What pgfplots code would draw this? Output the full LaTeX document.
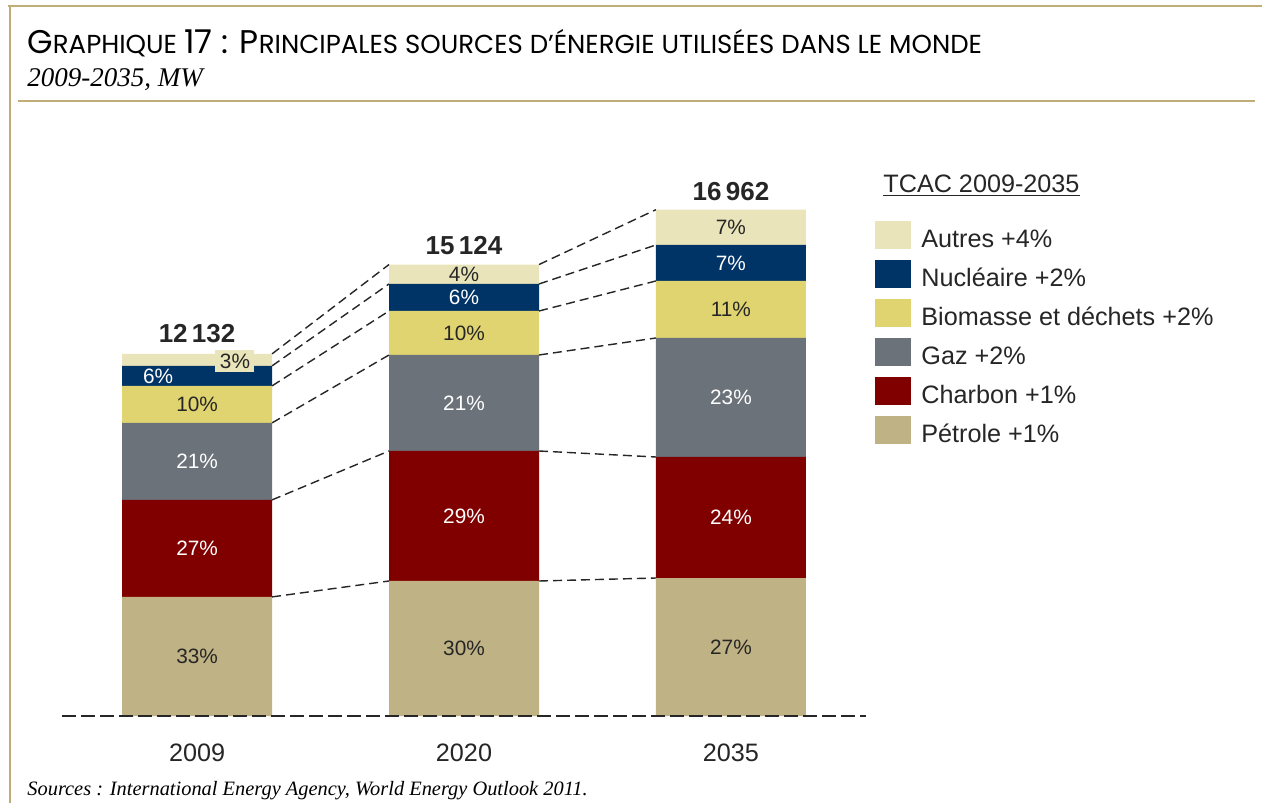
\documentclass[border=0pt]{standalone}
\usepackage{fontspec}
\setmainfont{Liberation Sans}
\newfontfamily\titlefont{Poppins}
\newfontfamily\seriffont{Liberation Serif}
\usepackage{pgfplots}
\pgfplotsset{compat=1.18}
\usepackage{pgfplotstable}

\definecolor{frame}{RGB}{191,174,118}
\definecolor{cAutres}{RGB}{233,228,185}
\definecolor{cNuc}{RGB}{0,51,102}
\definecolor{cBio}{RGB}{224,212,112}
\definecolor{cGaz}{RGB}{107,114,122}
\definecolor{cChar}{RGB}{128,0,0}
\definecolor{cPet}{RGB}{191,178,132}
\definecolor{txt}{RGB}{38,38,38}

\pgfplotstableread{
x P C G B N A
0 3990 3250 2580 1240 670 402
1 4523 4355 3216 1474 905 651
2 4623 4054 3987 1910 1206 1182
}\energy

\pgfplotstableread{
x c1 c2 c3 c4 c5 c6
0.281 3990 7240 9820 11060 11730 12132
0.719 4523 8878 12094 13568 14473 15124
}\linkA
\pgfplotstableread{
x c1 c2 c3 c4 c5 c6
1.281 4523 8878 12094 13568 14473 15124
1.719 4623 8677 12664 14574 15780 16962
}\linkB

\newcommand{\labf}{\fontsize{10.4}{10.4}\selectfont}
\newcommand{\bigf}{\fontsize{12.6}{12.6}\selectfont}

\begin{document}
\begin{tikzpicture}
\useasboundingbox (0,0) rectangle (631pt,-401.5pt);
\fill[white] (0,0) rectangle (631pt,-401.5pt);
% frame
\draw[frame, line width=1.1pt] (4pt,-3pt) -- (631pt,-3pt);
\draw[frame, line width=1.1pt] (5pt,-3pt) -- (5pt,-401.5pt);
\draw[frame, line width=1pt] (9pt,-50.5pt) -- (627.5pt,-50.5pt);
% title
\node[anchor=base west, inner sep=0, text=black, text depth=0pt] at (13.5pt,-27pt)
 {\titlefont\fontsize{16.4}{16.4}\selectfont G\fontsize{13}{13}\selectfont RAPHIQUE \fontsize{16.4}{16.4}\selectfont 17 : P\fontsize{13}{13}\selectfont RINCIPALES SOURCES D’ÉNERGIE UTILISÉES DANS LE MONDE};
\node[anchor=base west, inner sep=0, text=black] at (13.5pt,-43pt)
 {\seriffont\itshape\fontsize{13.5}{13.5}\selectfont 2009-2035, MW};
\node[anchor=base west, inner sep=0, text=black] at (13.5pt,-397.5pt)
 {\seriffont\itshape\fontsize{10.2}{10.2}\selectfont Sources : International Energy Agency, World Energy Outlook 2011.};

% bars
\begin{axis}[at={(31pt,-358pt)}, anchor=south west, scale only axis,
  width=402pt, height=283.58pt, xmin=-0.506, xmax=2.506, ymin=0, ymax=19000,
  enlargelimits=false, ybar stacked, bar width=75pt,
  axis line style={draw=none}, tick style={draw=none}, ytick=\empty,
  xtick={0,1,2}, xticklabels={2009,2020,2035},
  xticklabel style={anchor=base, yshift=-22.5pt, font=\bigf, text=txt},
  clip=false]
\addplot[fill=cPet, draw=none] table[x=x,y=P]{\energy};
\addplot[fill=cChar, draw=none] table[x=x,y=C]{\energy};
\addplot[fill=cGaz, draw=none] table[x=x,y=G]{\energy};
\addplot[fill=cBio, draw=none] table[x=x,y=B]{\energy};
\addplot[fill=cNuc, draw=none] table[x=x,y=N]{\energy};
\addplot[fill=cAutres, draw=none] table[x=x,y=A]{\energy};
\end{axis}

% connectors, baseline and labels
\begin{axis}[at={(31pt,-358pt)}, anchor=south west, scale only axis,
  width=402pt, height=283.58pt, xmin=-0.506, xmax=2.506, ymin=0, ymax=19000,
  enlargelimits=false, hide axis, clip=false]
\foreach \c in {c1,c2,c3,c4,c5,c6}{
  \addplot[txt, line width=0.7pt, dash pattern=on 4.5pt off 2.5pt] table[x=x,y=\c]{\linkA};
  \addplot[txt, line width=0.7pt, dash pattern=on 4.5pt off 2.5pt] table[x=x,y=\c]{\linkB};
}
\addplot[txt, line width=0.8pt, dash pattern=on 7pt off 2.5pt] coordinates {(-0.506,0) (2.506,0)};
% labels 2009
\node[text=txt, font=\labf] at (axis cs:0,1995) {33\%};
\node[text=white, font=\labf] at (axis cs:0,5615) {27\%};
\node[text=white, font=\labf] at (axis cs:0,8530) {21\%};
\node[text=txt, font=\labf] at (axis cs:0,10440) {10\%};
\node[text=white, font=\labf] at (axis cs:-0.146,11370) {6\%};
\node[text=txt, font=\labf, fill=cAutres, inner sep=0, minimum width=19.5pt, minimum height=11pt] at (axis cs:0.142,11893) {3\%};
% labels 2020
\node[text=txt, font=\labf] at (axis cs:1,2262) {30\%};
\node[text=white, font=\labf] at (axis cs:1,6700) {29\%};
\node[text=white, font=\labf] at (axis cs:1,10486) {21\%};
\node[text=txt, font=\labf] at (axis cs:1,12831) {10\%};
\node[text=white, font=\labf] at (axis cs:1,14020) {6\%};
\node[text=txt, font=\labf] at (axis cs:1,14798) {4\%};
% labels 2035
\node[text=txt, font=\labf] at (axis cs:2,2312) {27\%};
\node[text=white, font=\labf] at (axis cs:2,6650) {24\%};
\node[text=white, font=\labf] at (axis cs:2,10670) {23\%};
\node[text=txt, font=\labf] at (axis cs:2,13619) {11\%};
\node[text=white, font=\labf] at (axis cs:2,15177) {7\%};
\node[text=txt, font=\labf] at (axis cs:2,16371) {7\%};
% totals
\node[anchor=base, inner sep=0, yshift=5.5pt, text=txt, font=\bfseries\fontsize{13}{13}\selectfont] at (axis cs:0,12132) {12\,132};
\node[anchor=base, inner sep=0, yshift=5pt, text=txt, font=\bfseries\fontsize{13}{13}\selectfont] at (axis cs:1,15124) {15\,124};
\node[anchor=base, inner sep=0, yshift=4.5pt, text=txt, font=\bfseries\fontsize{13}{13}\selectfont] at (axis cs:2,16962) {16\,962};
\end{axis}

% legend
\node[anchor=base west, inner sep=0, text=txt, font=\bigf] at (441.5pt,-96pt) {\underline{TCAC 2009-2035}};
\foreach \i/\col/\name in {0/cAutres/{Autres +4\%},1/cNuc/{Nucléaire +2\%},2/cBio/{Biomasse et déchets +2\%},3/cGaz/{Gaz +2\%},4/cChar/{Charbon +1\%},5/cPet/{Pétrole +1\%}}{
  \pgfmathsetmacro{\ytop}{110.5+19.5*\i}
  \fill[\col] (437.5pt,-\ytop pt) rectangle (455.5pt,-\ytop pt-14pt);
  \node[anchor=base west, inner sep=0, text=txt, font=\bigf] at (460.5pt,-\ytop pt-13pt) {\name};
}
\end{tikzpicture}
\end{document}
